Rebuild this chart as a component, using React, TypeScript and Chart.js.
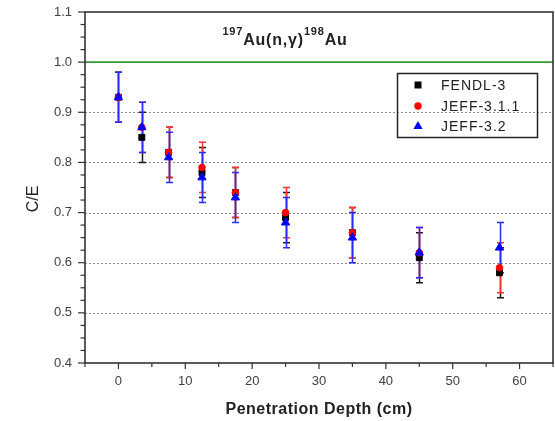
import React, { useEffect, useRef } from 'react';
import { Chart, registerables } from 'chart.js';

Chart.register(...registerables);

// ---- data ----
const depthCm = [0, 3.5, 7.5, 12.5, 17.5, 25, 35, 45, 57];
const fendl3CE = [0.93, 0.85, 0.82, 0.78, 0.74, 0.69, 0.66, 0.61, 0.58];
const fendl3Err = [0.05, 0.05, 0.05, 0.05, 0.05, 0.05, 0.05, 0.05, 0.05];
const jeff311CE = [0.93, 0.87, 0.82, 0.79, 0.74, 0.7, 0.66, 0.62, 0.59];
const jeff311Err = [0.05, 0.05, 0.05, 0.05, 0.05, 0.05, 0.05, 0.05, 0.05];
const jeff32CE = [0.93, 0.87, 0.81, 0.77, 0.73, 0.68, 0.65, 0.62, 0.63];
const jeff32Err = [0.05, 0.05, 0.05, 0.05, 0.05, 0.05, 0.05, 0.05, 0.05];
const seriesLabels = ['FENDL-3', 'JEFF-3.1.1', 'JEFF-3.2'];
const xMajorTicks = [0, 10, 20, 30, 40, 50, 60];
const yGridValues = [0.5, 0.6, 0.7, 0.8, 0.9];
const referenceValue = 1.0;
const xRange = [-5, 65];
const yRange = [0.4, 1.1];
const xTitle = 'Penetration Depth (cm)';
const yTitle = 'C/E';
const titleParts = [
  { text: '197', sup: true },
  { text: 'Au(n,γ)', sup: false },
  { text: '198', sup: true },
  { text: 'Au', sup: false },
];

const FONT = '"Liberation Sans", Arial, Helvetica, sans-serif';
const AXIS = '#333333';

const seriesStyle = [
  { color: '#000000', err: '#1a1a1a', style: 'rect', radius: 4.2 },
  { color: '#ff0000', err: '#ff3030', style: 'circle', radius: 3.3 },
  { color: '#0000ff', err: '#2a2aff', style: 'triangle', radius: 4.8 },
];
const seriesValues = [fendl3CE, jeff311CE, jeff32CE];
const seriesErrors = [fendl3Err, jeff311Err, jeff32Err];

function drawMarker(ctx: CanvasRenderingContext2D, style: string, x: number, y: number, color: string) {
  ctx.fillStyle = color;
  ctx.beginPath();
  if (style === 'rect') {
    ctx.rect(x - 3.5, y - 3.5, 7, 7);
  } else if (style === 'circle') {
    ctx.arc(x, y, 3.7, 0, Math.PI * 2);
  } else {
    ctx.moveTo(x, y - 5);
    ctx.lineTo(x + 4.6, y + 3);
    ctx.lineTo(x - 4.6, y + 3);
    ctx.closePath();
  }
  ctx.fill();
}

const decorPlugin = {
  id: 'decor',
  beforeDatasetsDraw(chart: any) {
    const { ctx, chartArea: a, scales } = chart;
    const x = scales.x;
    const y = scales.y;
    ctx.save();
    // dotted grid
    ctx.strokeStyle = '#8c8c8c';
    ctx.lineWidth = 1;
    ctx.setLineDash([2, 2]);
    for (const v of yGridValues) {
      const py = Math.round(y.getPixelForValue(v)) + 0.5;
      ctx.beginPath();
      ctx.moveTo(a.left, py);
      ctx.lineTo(a.right, py);
      ctx.stroke();
    }
    ctx.setLineDash([]);
    // reference line
    ctx.strokeStyle = '#2f9a2f';
    ctx.lineWidth = 1.6;
    const ry = y.getPixelForValue(referenceValue);
    ctx.beginPath();
    ctx.moveTo(a.left, ry);
    ctx.lineTo(a.right, ry);
    ctx.stroke();
    // error bars
    ctx.lineWidth = 1.5;
    seriesValues.forEach((vals, si) => {
      ctx.strokeStyle = seriesStyle[si].err;
      vals.forEach((v, i) => {
        const e = seriesErrors[si][i];
        const px = Math.round(x.getPixelForValue(depthCm[i])) + 0.5;
        const t = y.getPixelForValue(v + e);
        const b = y.getPixelForValue(v - e);
        ctx.beginPath();
        ctx.moveTo(px, t);
        ctx.lineTo(px, b);
        ctx.moveTo(px - 3.5, t);
        ctx.lineTo(px + 3.5, t);
        ctx.moveTo(px - 3.5, b);
        ctx.lineTo(px + 3.5, b);
        ctx.stroke();
      });
    });
    ctx.restore();
  },
  afterDraw(chart: any) {
    const { ctx, chartArea: a, scales } = chart;
    const x = scales.x;
    const y = scales.y;
    ctx.save();
    // frame
    ctx.strokeStyle = AXIS;
    ctx.lineWidth = 1.6;
    ctx.strokeRect(a.left, a.top, a.right - a.left, a.bottom - a.top);
    // y ticks
    ctx.lineWidth = 1.2;
    const ySteps = Math.round((yRange[1] - yRange[0]) / 0.025);
    for (let k = 0; k <= ySteps; k++) {
      const v = yRange[0] + k * 0.025;
      const py = y.getPixelForValue(v);
      const len = k % 4 === 0 ? 7 : 4.5;
      ctx.beginPath();
      ctx.moveTo(a.left, py);
      ctx.lineTo(a.left - len, py);
      ctx.stroke();
    }
    // x ticks
    for (let v = xRange[0]; v <= xRange[1]; v += 5) {
      const px = x.getPixelForValue(v);
      const len = v % 10 === 0 ? 6 : 4;
      ctx.beginPath();
      ctx.moveTo(px, a.bottom);
      ctx.lineTo(px, a.bottom + len);
      ctx.stroke();
    }
    // axis titles
    ctx.fillStyle = '#222222';
    ctx.font = `bold 16px ${FONT}`;
    (ctx as any).letterSpacing = '0.5px';
    ctx.textAlign = 'center';
    ctx.textBaseline = 'alphabetic';
    ctx.fillText(xTitle, (a.left + a.right) / 2, 414);
    (ctx as any).letterSpacing = '0px';
    ctx.save();
    ctx.translate(38, 199);
    ctx.rotate(-Math.PI / 2);
    ctx.font = `16px ${FONT}`;
    ctx.fillText(yTitle, 0, 0);
    ctx.restore();
    // chart title
    (ctx as any).letterSpacing = '0.8px';
    const mainFont = `bold 16px ${FONT}`;
    const supFont = `bold 11px ${FONT}`;
    let total = 0;
    const widths = titleParts.map((p) => {
      ctx.font = p.sup ? supFont : mainFont;
      const w = ctx.measureText(p.text).width;
      total += w;
      return w;
    });
    let tx = 285 - total / 2;
    ctx.textAlign = 'left';
    titleParts.forEach((p, i) => {
      ctx.font = p.sup ? supFont : mainFont;
      ctx.fillText(p.text, tx, p.sup ? 35 : 45);
      tx += widths[i];
    });
    // legend
    (ctx as any).letterSpacing = '1px';
    ctx.strokeStyle = '#222222';
    ctx.lineWidth = 1.5;
    ctx.strokeRect(397.5, 73.5, 140, 64);
    ctx.font = `14px ${FONT}`;
    ctx.textBaseline = 'middle';
    const rows = [85, 106, 126];
    seriesLabels.forEach((lab, i) => {
      drawMarker(ctx, seriesStyle[i].style, 418, rows[i], seriesStyle[i].color);
      ctx.fillStyle = '#222222';
      ctx.fillText(lab, 441, rows[i] + 1);
    });
    (ctx as any).letterSpacing = '0px';
    ctx.restore();
  },
};

export default function App() {
  const ref = useRef<HTMLCanvasElement>(null);
  useEffect(() => {
    if (!ref.current) return;
    const datasets = seriesLabels.map((label, si) => ({
      label,
      data: seriesValues[si].map((v, i) => ({ x: depthCm[i], y: v })),
      pointStyle: seriesStyle[si].style,
      pointRadius: seriesStyle[si].radius,
      pointBackgroundColor: seriesStyle[si].color,
      pointBorderColor: seriesStyle[si].color,
      pointBorderWidth: 1,
      showLine: false,
      order: 3 - si,
    }));
    const chart = new Chart(ref.current, {
      type: 'scatter',
      data: { datasets },
      options: {
        animation: false,
        responsive: false,
        devicePixelRatio: 1,
        layout: { autoPadding: false, padding: { top: 12, right: 2, left: 0, bottom: 0 } },
        plugins: { legend: { display: false }, tooltip: { enabled: false }, title: { display: false } },
        scales: {
          x: {
            type: 'linear',
            min: xRange[0],
            max: xRange[1],
            grid: { display: false, drawTicks: false, tickLength: 0 },
            border: { display: false },
            afterFit: (s: any) => {
              s.height = 58;
              s.paddingLeft = 0;
              s.paddingRight = 0;
            },
            ticks: {
              stepSize: 5,
              autoSkip: false,
              maxRotation: 0,
              padding: 11,
              color: '#404040',
              font: { family: FONT, size: 13 },
              callback: (v: any) => (xMajorTicks.includes(Number(v)) ? String(v) : ''),
            },
          },
          y: {
            type: 'linear',
            min: yRange[0],
            max: yRange[1],
            grid: { display: false, drawTicks: false, tickLength: 0 },
            border: { display: false },
            afterFit: (s: any) => {
              s.width = 85;
              s.paddingTop = 0;
              s.paddingBottom = 0;
            },
            ticks: {
              stepSize: 0.1,
              padding: 13,
              color: '#404040',
              font: { family: FONT, size: 13 },
              callback: (v: any) => Number(v).toFixed(1),
            },
          },
        },
      },
      plugins: [decorPlugin],
    });
    return () => chart.destroy();
  }, []);
  return (
    <div style={{ position: 'absolute', left: 0, top: 0, width: 555, height: 421, background: '#ffffff' }}>
      <canvas ref={ref} width={555} height={421} style={{ width: 555, height: 421, display: 'block' }} />
    </div>
  );
}
